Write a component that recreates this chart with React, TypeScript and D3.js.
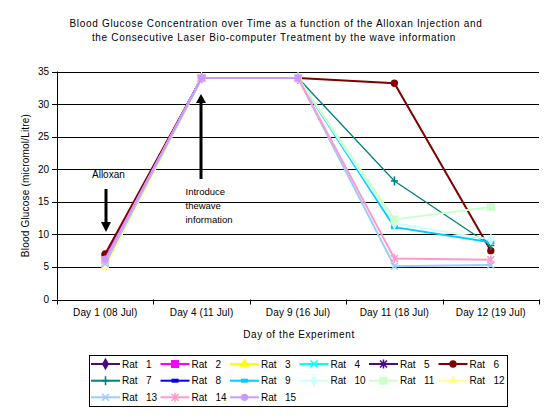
import React from "react";
import * as d3 from "d3";

const days = ["Day 1 (08 Jul)", "Day 4 (11 Jul)", "Day 9 (16 Jul)", "Day 11 (18 Jul)", "Day 12 (19 Jul)"];
const yTicks = [0, 5, 10, 15, 20, 25, 30, 35];
const ratNames = ["Rat 1", "Rat 2", "Rat 3", "Rat 4", "Rat 5", "Rat 6", "Rat 7", "Rat 8", "Rat 9", "Rat 10", "Rat 11", "Rat 12", "Rat 13", "Rat 14", "Rat 15"];
const ratColors = ["#4B0A82", "#FF00FF", "#FFFF00", "#00FFFF", "#4B0A82", "#800000", "#008080", "#0000FF", "#00CCFF", "#CCFFFF", "#CCFFCC", "#FFFF99", "#99CCFF", "#FF99CC", "#CC99FF"];
const ratMarkers = ["diamond", "square", "triangle", "x", "star", "circle", "plus", "dash", "dash", "diamond", "square", "triangle", "x", "star", "circle"];

const rat1 = [6, 34, 34, null, null];
const rat2 = [6.5, 34, 34, null, null];
const rat3 = [5, 34, 34, null, null];
const rat4 = [5.5, 34, 34, null, null];
const rat5 = [6, 34, 34, null, null];
const rat6 = [7, 34, 34, 33.2, 7.5];
const rat7 = [6, 34, 34, 18.2, 8.3];
const rat8 = [6, 34, 34, null, null];
const rat9 = [5.5, 34, 34, 11.1, 8.8];
const rat10 = [5.5, 34, 34, 11.7, 9.2];
const rat11 = [6, 34, 34, 12.3, 14.2];
const rat12 = [5, 34, 34, null, null];
const rat13 = [5.5, 34, 34, 5.1, 5.3];
const rat14 = [6, 34, 34, 6.3, 6.1];
const rat15 = [6.2, 34, 34, null, null];
const ratValues = [rat1, rat2, rat3, rat4, rat5, rat6, rat7, rat8, rat9, rat10, rat11, rat12, rat13, rat14, rat15];

const FONT = "'Liberation Sans', Arial, sans-serif";

function Marker({ type, color, x, y }: { type: string; color: string; x: number; y: number }) {
  const t = `translate(${x},${y})`;
  if (type === "diamond") return <path transform={t} d={d3.symbol(d3.symbolDiamond, 45)()!} fill={color} />;
  if (type === "square") return <rect x={x - 4} y={y - 4} width={8} height={8} fill={color} />;
  if (type === "triangle") return <path transform={t} d={d3.symbol(d3.symbolTriangle, 42)()!} fill={color} />;
  if (type === "circle") return <path transform={t} d={d3.symbol(d3.symbolCircle, 42)()!} fill={color} />;
  if (type === "dash") return <rect x={x - 3.5} y={y - 2} width={7} height={4} fill={color} />;
  const s = 3.5;
  if (type === "x")
    return (
      <g stroke={color} strokeWidth={1.6}>
        <line x1={x - s} y1={y - s} x2={x + s} y2={y + s} />
        <line x1={x - s} y1={y + s} x2={x + s} y2={y - s} />
      </g>
    );
  if (type === "star")
    return (
      <g stroke={color} strokeWidth={1.6}>
        <line x1={x - s} y1={y - s} x2={x + s} y2={y + s} />
        <line x1={x - s} y1={y + s} x2={x + s} y2={y - s} />
        <line x1={x} y1={y - s - 1} x2={x} y2={y + s + 1} />
      </g>
    );
  if (type === "plus")
    return (
      <g stroke={color} strokeWidth={1.6}>
        <line x1={x} y1={y - 4.5} x2={x} y2={y + 4.5} />
        <line x1={x - 3.5} y1={y} x2={x + 3.5} y2={y} />
      </g>
    );
  return null;
}

export default function App() {
  const left = 57, right = 539, top = 71.5, bottom = 299.5;
  const xBand = d3.scaleBand<string>().domain(days).range([left, right]);
  const xc = (d: string) => (xBand(d) as number) + xBand.bandwidth() / 2;
  const y = d3.scaleLinear().domain([0, 35]).range([bottom, top]);

  const line = d3
    .line<number | null>()
    .defined((v) => v !== null)
    .x((_, i) => xc(days[i]))
    .y((v) => y(v as number));

  const legendColX = [91, 160.5, 230, 299.5, 369, 438.5];
  const legendRowY = [364, 380.7, 397.3];

  return (
    <svg width={554} height={415} style={{ position: "absolute", left: 0, top: 0, background: "#fff" }} fontFamily={FONT}>
      <rect width={554} height={415} fill="#fff" />
      <text x={276} y={26.5} fontSize={10} textAnchor="middle" letterSpacing={0.68}>
        Blood Glucose Concentration over Time as a function of the Alloxan Injection and
      </text>
      <text x={274} y={41} fontSize={10} textAnchor="middle" letterSpacing={0.68}>
        the Consecutive Laser Bio-computer Treatment by the wave information
      </text>

      {yTicks.map((t) => (
        <g key={t}>
          {t > 0 && <line x1={left} x2={right} y1={Math.round(y(t)) + 0.5} y2={Math.round(y(t)) + 0.5} stroke="#000" strokeWidth={1} />}
          <line x1={left - 5} x2={left} y1={Math.round(y(t)) + 0.5} y2={Math.round(y(t)) + 0.5} stroke="#000" />
          <text x={left - 8} y={y(t)} dy="0.35em" fontSize={10} textAnchor="end">
            {t}
          </text>
        </g>
      ))}
      <line x1={left + 0.5} x2={left + 0.5} y1={top} y2={bottom} stroke="#000" />
      <line x1={left} x2={right} y1={Math.round(bottom) + 0.5} y2={Math.round(bottom) + 0.5} stroke="#000" />
      {[0, 1, 2, 3, 4, 5].map((i) => {
        const xx = Math.round(left + i * xBand.bandwidth()) + 0.5;
        return <line key={i} x1={xx} x2={xx} y1={bottom} y2={bottom + 5} stroke="#000" />;
      })}
      {days.map((d) => (
        <text key={d} x={xc(d)} y={316} fontSize={10} textAnchor="middle" letterSpacing={0.15}>
          {d}
        </text>
      ))}
      <text x={299} y={338} fontSize={10} textAnchor="middle" letterSpacing={0.6}>
        Day of the Experiment
      </text>
      <text transform={`translate(25,${(top + bottom) / 2}) rotate(-90)`} dy="0.35em" fontSize={10} textAnchor="middle" letterSpacing={0.2}>
        Blood Glucose (micromol/Litre)
      </text>

      <text x={92} y={177.5} fontSize={10}>Alloxan</text>
      <line x1={106} x2={106} y1={189} y2={224} stroke="#000" strokeWidth={3} />
      <path d="M101,222 L111,222 L106,232 Z" fill="#000" />
      <text x={185.5} y={195} fontSize={9.5}>Introduce</text>
      <text x={185.5} y={209} fontSize={9.5}>thewave</text>
      <text x={185.5} y={223} fontSize={9.5}>information</text>
      <line x1={201} x2={201} y1={179} y2={101} stroke="#000" strokeWidth={3} />
      <path d="M196,103 L206,103 L201,94 Z" fill="#000" />

      {ratValues.map((vals, si) => (
        <g key={si}>
          <path d={line(vals) as string} fill="none" stroke={ratColors[si]} strokeWidth={si === 6 ? 1.3 : 2} />
          {vals.map((v, i) =>
            v === null ? null : <Marker key={i} type={ratMarkers[si]} color={ratColors[si]} x={xc(days[i])} y={y(v)} />
          )}
        </g>
      ))}

      <rect x={89.5} y={355.5} width={418} height={51} fill="#fff" stroke="#000" strokeWidth={1} />
      {ratNames.map((name, i) => {
        const cx = legendColX[i % 6];
        const cy = legendRowY[Math.floor(i / 6)];
        const num = name.split(" ")[1];
        return (
          <g key={name}>
            <line x1={cx} x2={cx + 29} y1={cy} y2={cy} stroke={ratColors[i]} strokeWidth={2} />
            <Marker type={ratMarkers[i]} color={ratColors[i]} x={cx + 14.5} y={cy} />
            <text x={cx + 31} y={cy + 3.5} fontSize={10}>Rat</text>
            <text x={cx + 55} y={cy + 3.5} fontSize={10}>{num}</text>
          </g>
        );
      })}
    </svg>
  );
}
